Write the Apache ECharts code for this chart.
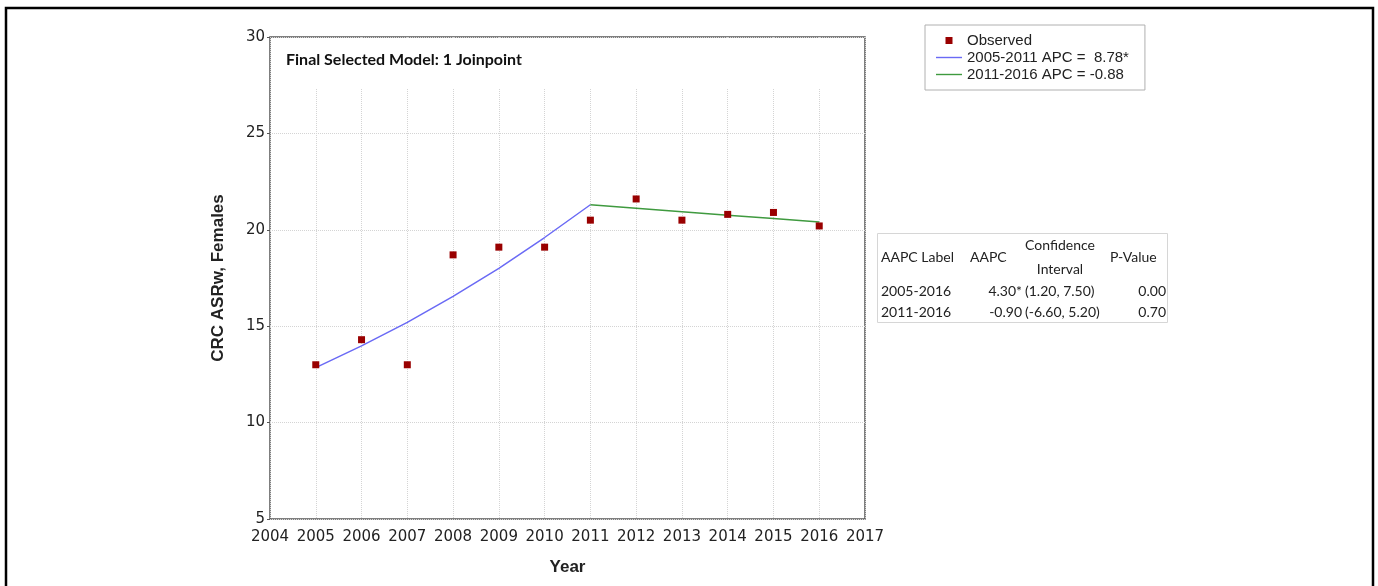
<!DOCTYPE html>
<html>
<head>
<meta charset="utf-8">
<script src="https://cdn.jsdelivr.net/npm/echarts@6/dist/echarts.min.js"></script>
<style>
  html, body { margin: 0; padding: 0; background: #fff; }
  #chart { width: 1378px; height: 586px; }
</style>
</head>
<body>
<div id="chart"></div>
<script>
// observed rates
const years = [2005, 2006, 2007, 2008, 2009, 2010, 2011, 2012, 2013, 2014, 2015, 2016]
const observed = [13.0, 14.3, 13.0, 18.7, 19.1, 19.1, 20.5, 21.6, 20.5, 20.8, 20.9, 20.2]

// fitted joinpoint segments
const seg1Years = [2005, 2006, 2007, 2008, 2009, 2010, 2011]
const seg1Fit = [12.85, 13.98, 15.2, 16.55, 18.0, 19.6, 21.3]
const seg2Years = [2011, 2012, 2013, 2014, 2015, 2016]
const seg2Fit = [21.3, 21.12, 20.94, 20.76, 20.58, 20.4]

const legendNames = ['Observed', '2005-2011 APC =  8.78*', '2011-2016 APC = -0.88']

// AAPC table
const tableHeader = ['AAPC Label', 'AAPC', 'Confidence', 'Interval', 'P-Value']
const aapcLabels = ['2005-2016', '2011-2016']
const aapcValues = ['4.30*', '-0.90']
const aapcCI = ['(1.20, 7.50)', '(-6.60, 5.20)']
const aapcP = ['0.00', '0.70']

const GRID = { left: 270, top: 37, right: 513, bottom: 67 }
const W = 1378

const chart = echarts.init(document.getElementById('chart'), null, { renderer: 'canvas' })

const tableFont = { fontFamily: 'Lato, sans-serif', fontSize: 14, fill: '#222' }
const tx = (text, x, y, align) => ({
  type: 'text', x, y, z: 10,
  style: Object.assign({ text, textAlign: align || 'left', textVerticalAlign: 'middle' }, tableFont)
})

const tableEls = [
  { type: 'rect', z: 10, shape: { x: 877.5, y: 233.5, width: 290, height: 89 },
    style: { fill: '#fff', stroke: '#d6d6d6', lineWidth: 1 } },
  tx(tableHeader[0], 881, 257),
  tx(tableHeader[1], 970, 257),
  tx(tableHeader[2], 1060, 245, 'center'),
  tx(tableHeader[3], 1060, 269, 'center'),
  tx(tableHeader[4], 1110, 257)
]
aapcLabels.forEach((lab, i) => {
  const y = 291 + i * 21
  tableEls.push(tx(lab, 881, y))
  tableEls.push(tx(aapcValues[i], 1022, y, 'right'))
  tableEls.push(tx(aapcCI[i], 1025, y))
  tableEls.push(tx(aapcP[i], 1166, y, 'right'))
})

const lineIcon = 'path://M0,0h26v1.4h-26z'

chart.setOption({
  animation: false,
  backgroundColor: '#fff',
  grid: {
    left: GRID.left, top: GRID.top, right: GRID.right, bottom: GRID.bottom,
    show: true, borderColor: '#555', borderWidth: 1.5
  },
  legend: {
    orient: 'vertical',
    left: 925, top: 25,
    padding: [8, 16, 8, 11],
    itemWidth: 26, itemHeight: 10, itemGap: 2,
    borderColor: '#b0b0b0', borderWidth: 1,
    textStyle: { fontFamily: 'Liberation Sans, Arial, sans-serif', fontSize: 15, color: '#222' },
    data: [
      { name: legendNames[0], icon: 'path://M0,0M10,10M1.5,1.5h7v7h-7z' },
      { name: legendNames[1], icon: lineIcon },
      { name: legendNames[2], icon: lineIcon }
    ]
  },
  xAxis: {
    type: 'value', min: 2004, max: 2017, interval: 1,
    name: 'Year', nameLocation: 'middle', nameGap: 40,
    nameTextStyle: { fontFamily: 'Liberation Sans, Arial, sans-serif', fontWeight: 'bold', fontSize: 17, color: '#222' },
    axisLine: { show: false },
    axisTick: { show: false },
    axisLabel: { fontFamily: 'DejaVu Sans, sans-serif', fontSize: 15, color: '#222', margin: 11,
      formatter: v => String(v) },
    splitLine: { show: true, lineStyle: { color: '#d4d4d4', type: 'dotted', width: 1 } }
  },
  yAxis: {
    type: 'value', min: 5, max: 30, interval: 5,
    name: 'CRC ASRw, Females', nameLocation: 'middle', nameGap: 43, nameRotate: 90,
    nameTextStyle: { fontFamily: 'Liberation Sans, Arial, sans-serif', fontWeight: 'bold', fontSize: 17, color: '#222' },
    axisLine: { show: false },
    axisTick: { show: true, inside: false, length: 3, lineStyle: { color: '#555' } },
    axisLabel: { fontFamily: 'DejaVu Sans, sans-serif', fontSize: 15, color: '#222', margin: 5 },
    splitLine: { show: true, lineStyle: { color: '#d4d4d4', type: 'dotted', width: 1 } }
  },
  graphic: [
    // white band behind the model title (no vertical grid lines there)
    { type: 'rect', z: 1, silent: true,
      shape: { x: GRID.left + 1, y: GRID.top + 1, width: W - GRID.left - GRID.right - 2, height: 50 },
      style: { fill: '#fff' } },
    { type: 'text', z: 10, x: 286, y: 60,
      style: { text: 'Final Selected Model: 1 Joinpoint', fontFamily: 'Lato, sans-serif', fontWeight: 'bold',
        fontSize: 16, fill: '#111', textVerticalAlign: 'middle' } },
    // outer frame
    { type: 'rect', z: 20, silent: true,
      shape: { x: 6, y: 8, width: 1367, height: 600 },
      style: { fill: 'none', stroke: '#000', lineWidth: 2.5 } },
    ...tableEls
  ],
  series: [
    {
      name: legendNames[0], type: 'scatter', symbol: 'rect', symbolSize: 7,
      itemStyle: { color: '#990000', opacity: 1 }, z: 5,
      data: years.map((y, i) => [y, observed[i]])
    },
    {
      name: legendNames[1], type: 'line', symbol: 'none', smooth: false,
      lineStyle: { color: '#6a6af5', width: 1.5 }, itemStyle: { color: '#6a6af5' },
      data: seg1Years.map((y, i) => [y, seg1Fit[i]])
    },
    {
      name: legendNames[2], type: 'line', symbol: 'none', smooth: false,
      lineStyle: { color: '#3f9a3f', width: 1.5 }, itemStyle: { color: '#3f9a3f' },
      data: seg2Years.map((y, i) => [y, seg2Fit[i]])
    }
  ]
})
</script>
</body>
</html>
